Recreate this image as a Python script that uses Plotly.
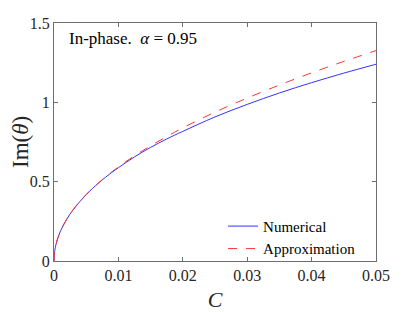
import plotly.graph_objects as go

C = [0, 0.00005, 0.0001, 0.0002, 0.0005, 0.001, 0.002, 0.003, 0.004, 0.005, 0.006, 0.008,
     0.01, 0.0125, 0.015, 0.0175, 0.02, 0.025, 0.03, 0.035, 0.04, 0.045, 0.05]
numerical = [0, 0.042, 0.059, 0.084, 0.133, 0.188, 0.265, 0.324, 0.374, 0.418, 0.458, 0.528,
             0.588, 0.656, 0.716, 0.769, 0.817, 0.908, 0.987, 1.059, 1.124, 1.184, 1.240]
approximation = [0, 0.042, 0.059, 0.084, 0.133, 0.188, 0.265, 0.325, 0.375, 0.419, 0.459, 0.530,
                 0.593, 0.663, 0.726, 0.784, 0.839, 0.938, 1.027, 1.109, 1.186, 1.258, 1.326]
x_ticks = [0, 0.01, 0.02, 0.03, 0.04, 0.05]
x_tick_labels = ["0", "0.01", "0.02", "0.03", "0.04", "0.05"]
y_ticks = [0, 0.5, 1, 1.5]
y_tick_labels = ["0", "0.5", "1", "1.5"]

FONT = "Liberation Serif, DejaVu Serif, serif"
AX = "#6e6e6e"

fig = go.Figure()
fig.add_trace(go.Scatter(x=C, y=numerical, mode="lines", name="Numerical",
                         line=dict(color="#3333ff", width=1), line_shape="spline"))
fig.add_trace(go.Scatter(x=C, y=approximation, mode="lines", name="Approximation",
                         line=dict(color="#ff3333", width=1, dash="dash"), line_shape="spline"))

axis_common = dict(showline=True, linecolor=AX, linewidth=1, mirror="ticks",
                   ticks="inside", ticklen=4, tickcolor=AX, showgrid=False, zeroline=False,
                   automargin=False,
                   tickfont=dict(family=FONT, size=16, color="#262626"))

# page body has an 8px margin, so the figure is sized to fit the 415x312 window
fig.update_layout(
    width=407, height=304,
    margin=dict(l=46, r=39, t=15, b=51, autoexpand=False),
    paper_bgcolor="white", plot_bgcolor="white",
    showlegend=True,
    legend=dict(x=0.525, y=0.215, xanchor="left", yanchor="top", bgcolor="rgba(0,0,0,0)",
                font=dict(family=FONT, size=15, color="#000"), tracegroupgap=0,
                itemwidth=30),
    xaxis=dict(range=[0, 0.05], tickvals=x_ticks, ticktext=x_tick_labels,
               title=dict(text="<i>C</i>", font=dict(family=FONT, size=22, color="#262626"), standoff=14),
               **axis_common),
    yaxis=dict(range=[0, 1.5], tickvals=y_ticks, ticktext=y_tick_labels, **axis_common),
    annotations=[
        dict(x=0.04, y=0.985, xref="paper", yref="paper", xanchor="left", yanchor="top",
             text="In-phase.  <i>α</i> = 0.95", showarrow=False,
             font=dict(family=FONT, size=17, color="#000")),
        dict(x=0, y=0.5, xref="paper", yref="paper", xanchor="center", yanchor="middle",
             xshift=-34, textangle=-90, text="Im(<i>θ</i>)", showarrow=False,
             font=dict(family=FONT, size=23, color="#262626")),
    ],
)

fig.write_html("out.html")
